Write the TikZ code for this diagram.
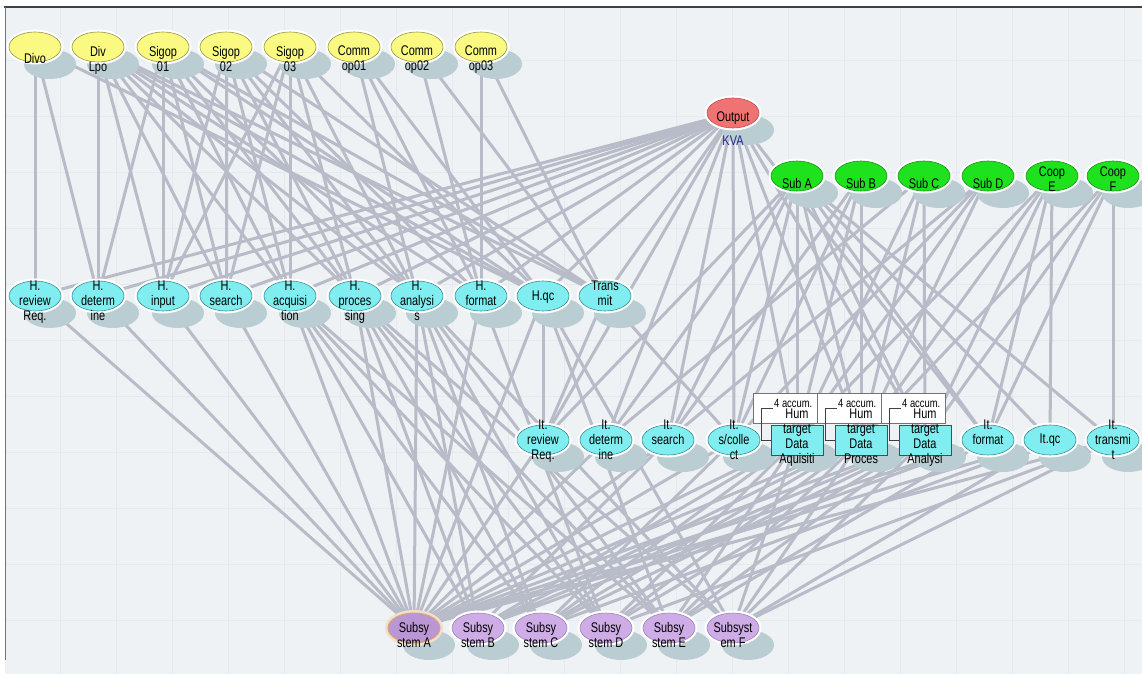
\documentclass[tikz,border=0pt]{standalone}
\usepackage{fontspec}
\newfontfamily\nf[FakeStretch=0.78]{Liberation Sans}
\usetikzlibrary{shapes.geometric,shadows}
\pgfdeclarelayer{bgl}
\pgfdeclarelayer{edg}
\pgfsetlayers{bgl,edg,main}
\definecolor{bgc}{RGB}{238,242,244}
\definecolor{gridc}{RGB}{229,234,238}
\definecolor{edgec}{RGB}{184,188,200}
\definecolor{shad}{RGB}{186,205,210}
\definecolor{yelc}{RGB}{250,250,130}
\definecolor{yeld}{RGB}{150,150,70}
\definecolor{cyac}{RGB}{128,238,240}
\definecolor{cyad}{RGB}{60,140,150}
\definecolor{grnc}{RGB}{30,226,30}
\definecolor{grnd}{RGB}{20,150,20}
\definecolor{redc}{RGB}{240,115,115}
\definecolor{redd}{RGB}{190,80,80}
\definecolor{purc}{RGB}{206,172,230}
\definecolor{purd}{RGB}{160,130,190}
\definecolor{pura}{RGB}{186,150,212}
\definecolor{orad}{RGB}{215,165,115}
\definecolor{kvac}{RGB}{40,40,140}
\tikzset{
  edge/.style={draw=edgec, line width=3pt},
  nshape/.style={ellipse, minimum width=52pt, minimum height=30pt, inner sep=0pt, line width=0.6pt,
    drop shadow={shadow xshift=15pt, shadow yshift=-17pt, fill=shad, opacity=1, draw=none},
    preaction={draw=white, line width=5pt}},
  yelnode/.style={nshape, fill=yelc, draw=yeld},
  cyanode/.style={nshape, fill=cyac, draw=cyad},
  grnnode/.style={nshape, fill=grnc, draw=grnd},
  rednode/.style={nshape, fill=redc, draw=redd},
  purnode/.style={nshape, fill=purc, draw=purd},
  shadell/.style={ellipse, minimum width=52pt, minimum height=30pt, inner sep=0pt, fill=shad, draw=none},
  boxnode/.style={rectangle, minimum width=52pt, minimum height=30pt, inner sep=0pt, fill=cyac, draw=black!70, line width=0.6pt},
  loopbox/.style={rectangle, minimum width=64pt, minimum height=30pt, inner sep=0pt, fill=white, draw=black!55, line width=0.6pt},
  loopline/.style={draw=black!75, line width=0.6pt},
  txt/.style={anchor=north, inner sep=0pt, align=center, font=\nf\fontsize{14}{15}\selectfont},
  smalltxt/.style={inner sep=0pt, font=\nf\fontsize{12}{12}\selectfont},
}
\begin{document}
\begin{tikzpicture}[x=1pt,y=-1pt]
\useasboundingbox (0,0) rectangle (1142,674);
\begin{pgfonlayer}{bgl}
  \fill[white] (0,0) rectangle (1142,674);
  \fill[bgc] (5,7) rectangle (1142,674);
  \foreach \gx in {60,116,...,1140} \draw[gridc, line width=0.6pt] (\gx,8) -- (\gx,674);
  \foreach \gy in {60,116,...,670} \draw[gridc, line width=0.6pt] (6,\gy) -- (1142,\gy);
  \draw[black!75, line width=1.4pt] (4,7) -- (1142,7);
  \draw[black!55, line width=1pt] (5,7) -- (5,660);
\end{pgfonlayer}

% yellow row
\foreach \n/\x in {Divo/35,DivL/98,S1/163,S2/226,S3/290,C1/354,C2/417,C3/481}
  \node[yelnode] (\n) at (\x,47) {};
% red
\node[rednode] (KVA) at (733,113) {};
% green row
\foreach \n/\x in {GA/797,GB/861,GC/924,GD/988,GE/1052,GF/1113}
  \node[grnnode] (\n) at (\x,176) {};
% H row
\foreach \n/\x in {Hrev/35,Hdet/98,Hinp/163,Hsea/226,Hacq/290,Hpro/355,Hana/417,Hfor/481,Hqc/543,Htra/605}
  \node[cyanode] (\n) at (\x,296) {};
% It row ellipses
\foreach \n/\x in {Irev/543,Idet/606,Isea/668,Isc/734,Ifor/988,Iqc/1050,Itra/1113}
  \node[cyanode] (\n) at (\x,440) {};
% loop boxes and boxes
\foreach \n/\x in {1/797,2/861,3/925}{
  \node[loopbox] (L\n) at (\x-12,408) {};
}
\foreach \n/\x in {1/797,2/861,3/925}{
  \node[shadell] (B\n s) at (\x+15,457) {};
  \node[boxnode] (B\n) at (\x,440) {};
  \draw[loopline] (B\n.west) -- ++(-9,0) |- ++(11,-32);
  \node[smalltxt, anchor=west] (L\n t) at (\x-23,403) {4 accum.};
}
% purple row
\foreach \n/\x in {PB/478,PC/541,PD/606,PE/669,PF/733}
  \node[purnode] (\n) at (\x,628) {};
\node[nshape, fill=pura, draw=orad, line width=1pt, preaction={draw=orad!35, line width=6pt}] (PA) at (414,628) {};

% edges
\begin{pgfonlayer}{edg}
\foreach \s/\ts in {
  Divo/{Hrev,Hdet,Hqc},
  DivL/{Hdet,Hinp,Hsea,Hacq,Hpro,Hana,Hfor,Hqc,Htra},
  S1/{Hinp,Hsea,Hacq,Hpro,Hana,Hqc,Htra,Hdet},
  S2/{Hinp,Hsea,Hacq,Hpro,Hana,Hfor,Htra},
  S3/{Hsea,Hacq,Hpro,Hana,Hqc,Hinp},
  C1/{Hana,Hfor,Hqc},
  C2/{Hfor,Htra},
  C3/{Hfor,Htra},
  KVA/{Hrev,Hdet,Hinp,Hsea,Hacq,Hpro,Hana,Hfor,Hqc,Htra,Irev,Idet,Isea,Isc,B1,B2,B3,Ifor},
  GA/{Irev,Idet,Isea,Isc,B1,B2,B3,Ifor,Iqc,Itra},
  GB/{B2,Isc,B1,Isea},
  GC/{B3,B1,B2,Idet},
  GD/{B1,B2,Isc,Isea},
  GE/{B1,B2,B3,Ifor,Iqc},
  GF/{Itra,B3,Ifor,B2},
  Htra/{Irev,Isc},
  Hqc/{Irev},
  PA/{Hrev,Hdet,Hinp,Hsea,Hacq,Hpro,Hana,Hfor,Hqc,Irev,Idet,Isea,Isc,B1,B2,B3,Ifor,Iqc,Itra},
  PB/{Hacq,Hpro,Hana,Isea,B1,B2,B3,Ifor},
  PC/{Hacq,Hpro,Hana,Isc,B1,B2,B3,Iqc},
  PD/{Hacq,Hpro,Hana,Hfor,B1,B2,B3,Itra},
  PE/{Hacq,Hpro,Hana,Hqc,B1,B2,B3,Ifor},
  PF/{Hpro,Hana,Hqc,B1,B2,B3,Iqc,Itra}}
  {\foreach \t in \ts \draw[edge] (\s.center) -- (\t.center);}
\end{pgfonlayer}

% texts
\node[txt] (Divo t) at (35,53) {Divo};
\foreach \n/\x/\t in {DivL/98/{Div\\Lpo},S1/163/{Sigop\\01},S2/226/{Sigop\\02},S3/290/{Sigop\\03},C1/354/{Comm\\op01},C2/417/{Comm\\op02},C3/481/{Comm\\op03}}
  \node[txt] (\n t) at (\x,46) {\t};
\node[txt] (KVA t1) at (733,112) {Output};
\node[txt, text=kvac] (KVA t2) at (733,136) {KVA};
\foreach \n/\x/\t in {GA/797/{Sub A},GB/861/{Sub B},GC/924/{Sub C},GD/988/{Sub D}}
  \node[txt] (\n t) at (\x,178) {\t};
\foreach \n/\x/\t in {GE/1052/{Coop\\E},GF/1113/{Coop\\F}}
  \node[txt] (\n t) at (\x,167) {\t};
\foreach \n/\x/\t in {Hrev/35/{H.\\review\\Req.},Hdet/98/{H.\\determ\\ine},Hinp/163/{H.\\input},Hsea/226/{H.\\search},Hacq/290/{H.\\acquisi\\tion},Hpro/355/{H.\\proces\\sing},Hana/417/{H.\\analysi\\s},Hfor/481/{H.\\format},Htra/605/{Trans\\mit}}
  \node[txt] (\n t) at (\x,281) {\t};
\node[txt] (Hqc t) at (543,291) {H.qc};
\foreach \n/\x/\t in {Irev/543/{It.\\review\\Req.},Idet/606/{It.\\determ\\ine},Isea/668/{It.\\search},Isc/734/{It.\\s/colle\\ct},Ifor/988/{It.\\format},Itra/1113/{It.\\transmi\\t}}
  \node[txt] (\n t) at (\x,420) {\t};
\node[txt] (Iqc t) at (1050,434) {It.qc};
\foreach \n/\x/\t in {1/797/{Hum\\target\\Data\\Aquisiti},2/861/{Hum\\target\\Data\\Proces},3/925/{Hum\\target\\Data\\Analysi}}
  \node[txt] (B\n t) at (\x,409) {\t};
\foreach \n/\x/\t in {PA/414/{Subsy\\stem A},PB/478/{Subsy\\stem B},PC/541/{Subsy\\stem C},PD/606/{Subsy\\stem D},PE/669/{Subsy\\stem E},PF/733/{Subsyst\\em F}}
  \node[txt] (\n t) at (\x,622) {\t};
\end{tikzpicture}
\end{document}
